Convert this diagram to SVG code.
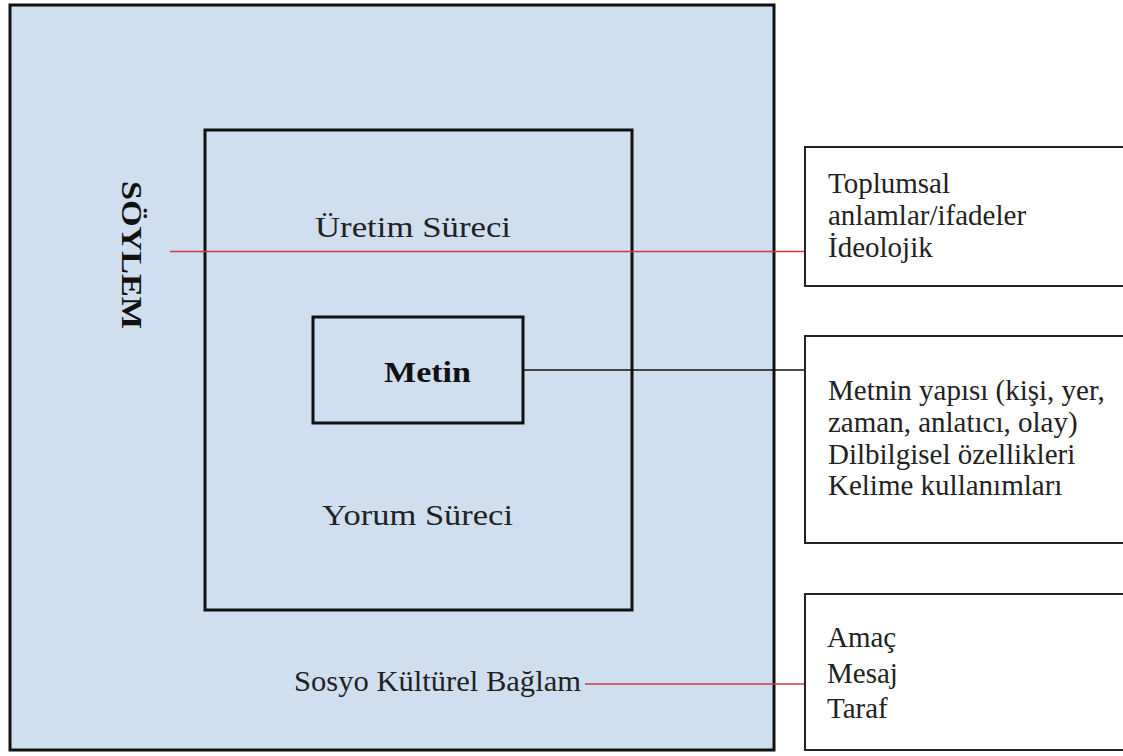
<svg xmlns="http://www.w3.org/2000/svg" width="1123" height="756" viewBox="0 0 1123 756">
<style>
.frame{fill:#cfdff0;stroke:#111;stroke-width:3}
.inner{fill:none;stroke:#111;stroke-width:3}
.side{fill:#fff;stroke:#222;stroke-width:2}
.t{font-family:"Liberation Serif","Times New Roman",serif;font-size:29px;fill:#222}
.b{font-weight:bold;fill:#111}
.red{stroke:#d03a3a;stroke-width:1.6;fill:none}
.blk{stroke:#111;stroke-width:1.6;fill:none}
</style>
<rect width="1123" height="756" fill="#fff"/>
<g id="soylem">
<rect class="frame" x="10" y="5" width="764" height="745"/>
<text class="t b" transform="translate(122,255) rotate(90)" x="0" y="0" text-anchor="middle" font-size="34" textLength="148" lengthAdjust="spacingAndGlyphs">SÖYLEM</text>
<text class="t" x="294" y="691" textLength="287" lengthAdjust="spacingAndGlyphs">Sosyo Kültürel Bağlam</text>
</g>
<g id="surec">
<rect class="inner" x="205" y="130" width="427" height="480"/>
<text class="t" x="315" y="237" textLength="196" lengthAdjust="spacingAndGlyphs">Üretim Süreci</text>
<text class="t" x="322" y="525" textLength="191" lengthAdjust="spacingAndGlyphs">Yorum Süreci</text>
</g>
<g id="metin">
<rect class="inner" x="313" y="317" width="210" height="106"/>
<text class="t b" x="384" y="382" font-size="31" textLength="87" lengthAdjust="spacingAndGlyphs">Metin</text>
</g>
<g id="connectors">
<line class="red" x1="170" y1="251.5" x2="805" y2="251.5"/>
<line class="blk" x1="523" y1="370" x2="805" y2="370"/>
<line class="red" x1="585" y1="684" x2="805" y2="684"/>
</g>
<g id="box-toplumsal">
<rect class="side" x="805" y="147" width="330" height="139"/>
<text class="t" x="828" y="193">Toplumsal</text>
<text class="t" x="828" y="225">anlamlar/ifadeler</text>
<text class="t" x="828" y="257">İdeolojik</text>
</g>
<g id="box-metin-yapisi">
<rect class="side" x="805" y="336" width="330" height="207"/>
<text class="t" x="828" y="400">Metnin yapısı (kişi, yer,</text>
<text class="t" x="828" y="432">zaman, anlatıcı, olay)</text>
<text class="t" x="828" y="464">Dilbilgisel özellikleri</text>
<text class="t" x="828" y="495">Kelime kullanımları</text>
</g>
<g id="box-amac">
<rect class="side" x="805" y="594" width="330" height="156"/>
<text class="t" x="827" y="647">Amaç</text>
<text class="t" x="827" y="683">Mesaj</text>
<text class="t" x="827" y="718">Taraf</text>
</g>
</svg>
